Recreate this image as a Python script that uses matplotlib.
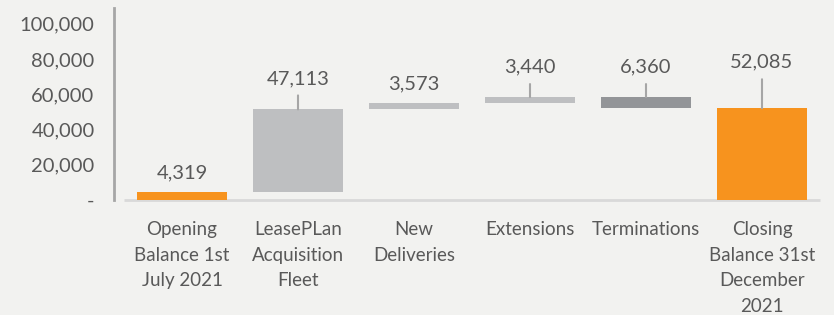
import matplotlib.pyplot as plt
from matplotlib.ticker import FuncFormatter

# data
categories = ["Opening\nBalance 1st\nJuly 2021", "LeasePLan\nAcquisition\nFleet",
              "New\nDeliveries", "Extensions", "Terminations",
              "Closing\nBalance 31st\nDecember\n2021"]
changes = [4319, 47113, 3573, 3440, -6360, 52085]
kinds = ["total", "step", "step", "step", "step", "total"]

orange = "#F7931E"
light_grey = "#BEBFC1"
dark_grey = "#939598"
text_col = "#595959"
bg = "#F2F2F0"

plt.rcParams['font.family'] = ['Lato', 'DejaVu Sans']

# waterfall bottoms / heights
bottoms = []
heights = []
colors = []
running = 0
for v, k in zip(changes, kinds):
    if k == "total":
        bottoms.append(0)
        heights.append(v)
        colors.append(orange)
        running = v
    else:
        if v >= 0:
            bottoms.append(running)
            colors.append(light_grey)
        else:
            bottoms.append(running + v)
            colors.append(dark_grey)
        heights.append(abs(v))
        running += v

fig = plt.figure(figsize=(8.34, 3.15), dpi=100, facecolor=bg)
ax = fig.add_axes([114 / 834, 1 - 200 / 315, 706 / 834, 192 / 315])
ax.set_facecolor(bg)

pos = list(range(len(categories)))
ax.bar(pos, heights, bottom=bottoms, width=0.77, color=colors, zorder=3)

# labels above each bar, offsets in pixels (placed by hand in the original)
label_off = [20, 31, 19, 30, 30, 46]
px = 72 / 100
for i, v in enumerate(changes):
    top = bottoms[i] + heights[i]
    ax.annotate(f"{abs(v):,}", (i, top), xytext=(0, label_off[i] * px),
                textcoords="offset points", ha="center", va="center",
                fontsize=14.5, color=text_col)
    if label_off[i] > 25:
        ax.annotate("", (i, top), xytext=(0, (label_off[i] - 17) * px),
                    textcoords="offset points",
                    arrowprops=dict(arrowstyle="-", color="#A6A6A6", lw=1.5,
                                    shrinkA=0, shrinkB=0))

ax.set_xlim(-0.5 - 10 / 116, 5.5)
ax.set_ylim(0, 109000)
ax.set_yticks([0, 20000, 40000, 60000, 80000, 100000])
ax.yaxis.set_major_formatter(FuncFormatter(lambda y, p: "-" if y == 0 else f"{int(y):,}"))
ax.set_xticks(pos)
ax.set_xticklabels(categories, linespacing=1.62)
ax.tick_params(axis="y", length=0, pad=14, labelsize=14.5, labelcolor=text_col)
ax.tick_params(axis="x", length=0, pad=15, labelsize=13.5, labelcolor=text_col)

for s in ["top", "right", "bottom"]:
    ax.spines[s].set_visible(False)
ax.spines["left"].set_color("#A6A6A6")
ax.spines["left"].set_linewidth(2)
ax.hlines(0, -0.5, 5.5, color="#D9D9D9", lw=2, zorder=2, clip_on=False)

plt.savefig("out.png", dpi=100, facecolor=bg)
